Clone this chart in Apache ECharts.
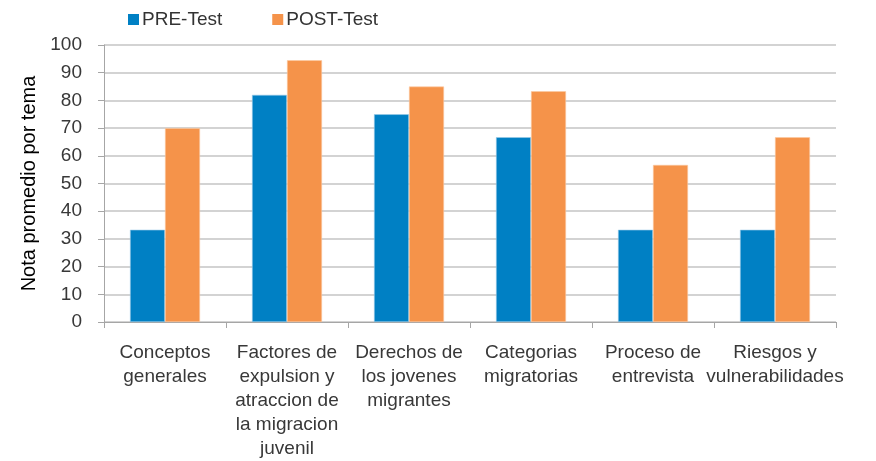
<!DOCTYPE html>
<html>
<head>
<meta charset="utf-8">
<script src="https://cdn.jsdelivr.net/npm/echarts@6/dist/echarts.min.js"></script>
<style>
  html, body { margin: 0; padding: 0; background: #fff; }
  #chart { width: 876px; height: 461px; }
</style>
</head>
<body>
<div id="chart"></div>
<script>
// categorias del eje x (con saltos de linea como en el original)
var temas = [
  'Conceptos\ngenerales',
  'Factores de\nexpulsion y\natraccion de\nla migracion\njuvenil',
  'Derechos de\nlos jovenes\nmigrantes',
  'Categorias\nmigratorias',
  'Proceso de\nentrevista',
  'Riesgos y\nvulnerabilidades'
];
var preTest = [33.3, 82, 75, 66.7, 33.3, 33.3];
var postTest = [70, 94.5, 85, 83.3, 56.7, 66.7];
var yTicks = [0, 10, 20, 30, 40, 50, 60, 70, 80, 90, 100];

var fontFam = '"Liberation Sans", Arial, sans-serif';

var chart = echarts.init(document.getElementById('chart'));

var option = {
  animation: false,
  textStyle: { fontFamily: fontFam },
  legend: {
    left: 123,
    top: 5,
    itemWidth: 11,
    itemHeight: 11,
    itemGap: 50,
    icon: 'rect',
    itemStyle: { borderWidth: 0 },
    textStyle: { fontSize: 19, color: '#333', fontFamily: fontFam, padding: [0, 0, 0, -2] },
    data: ['PRE-Test', 'POST-Test']
  },
  grid: {
    left: 104,
    right: 40,
    top: 45,
    bottom: 135
  },
  xAxis: {
    type: 'category',
    data: temas,
    axisLine: { lineStyle: { color: '#a6a6a6', width: 1 } },
    axisTick: { show: true, length: 6, lineStyle: { color: '#a6a6a6' } },
    axisLabel: {
      interval: 0,
      margin: 19,
      fontSize: 19,
      lineHeight: 24,
      color: '#383838',
      fontFamily: fontFam
    }
  },
  yAxis: {
    type: 'value',
    min: yTicks[0],
    max: yTicks[yTicks.length - 1],
    interval: 10,
    name: 'Nota promedio por tema',
    nameLocation: 'middle',
    nameGap: 61,
    nameTextStyle: { fontSize: 20, color: '#000', fontFamily: fontFam },
    axisLine: { show: true, lineStyle: { color: '#a6a6a6' } },
    axisTick: { show: true, length: 6, lineStyle: { color: '#a6a6a6' } },
    axisLabel: { fontSize: 19, color: '#383838', margin: 22, fontFamily: fontFam },
    splitLine: { lineStyle: { color: '#c4c4c4', width: 1.5 } }
  },
  series: [
    {
      name: 'PRE-Test',
      type: 'bar',
      data: preTest,
      barWidth: 35,
      barGap: '0%',
      itemStyle: { color: '#0080c4', borderColor: '#9ccbe8', borderWidth: 0.6 }
    },
    {
      name: 'POST-Test',
      type: 'bar',
      data: postTest,
      barWidth: 35,
      barGap: '0%',
      itemStyle: { color: '#f5934a', borderColor: '#fbc9a3', borderWidth: 0.6 }
    }
  ]
};

chart.setOption(option);
</script>
</body>
</html>
